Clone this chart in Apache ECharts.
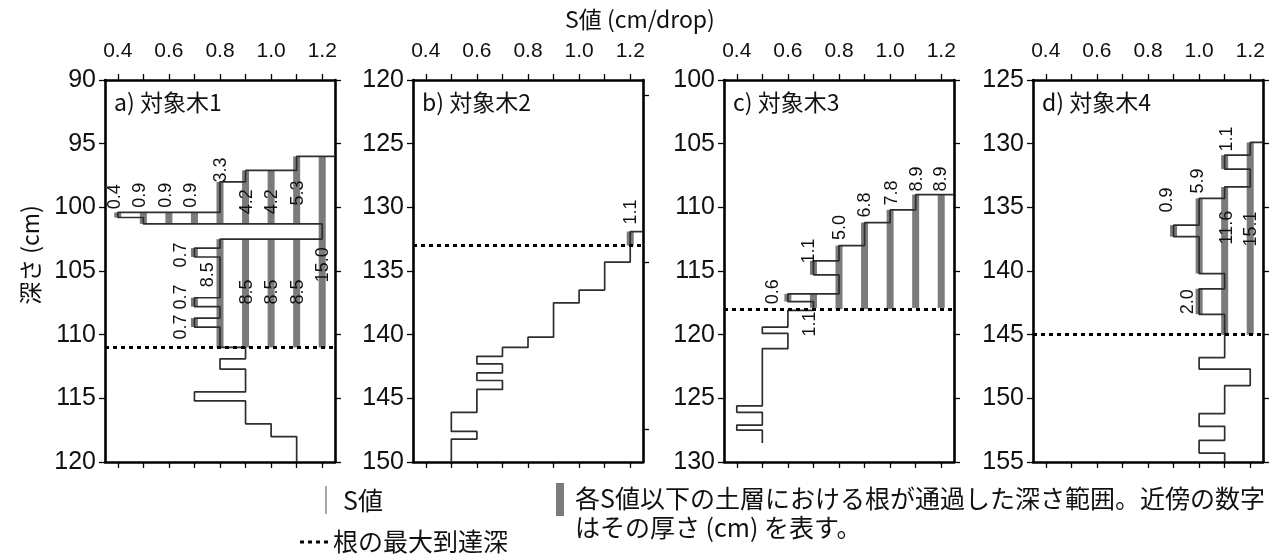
<!DOCTYPE html>
<html>
<head>
<meta charset="utf-8">
<script src="https://cdn.jsdelivr.net/npm/echarts@6/dist/echarts.min.js"></script>
<style>
  html, body { margin: 0; padding: 0; background: #fff; }
  #chart { width: 1283px; height: 560px; }
</style>
</head>
<body>
<div id="chart"></div>
<script>
// ---- S value axis ----
const S_MIN = 0.35;
const S_MAX = 1.25;
const S_TICKS = [0.4, 0.5, 0.6, 0.7, 0.8, 0.9, 1.0, 1.1, 1.2];
const S_TICK_LABELS = [0.4, 0.6, 0.8, 1.0, 1.2];

// ---- panels ----
const panelNames = ['a) 対象木1', 'b) 対象木2', 'c) 対象木3', 'd) 対象木4'];
const depthMin = [90, 120, 100, 125];
const depthMax = [120, 150, 130, 155];
const rightTicksB = [121.2, 134.3, 147.4];

// S value profile: layer boundaries (cm) and the S value of each layer
const breaksA = [96.0, 97.1, 98.0, 100.4, 100.8, 101.3, 102.5, 103.2, 103.9, 107.1, 107.8, 108.7, 109.4, 111.0, 111.9, 112.7, 114.5, 115.2, 117.0, 118.0, 120.0];
const sA = [1.1, 0.9, 0.8, 0.4, 0.5, 1.2, 0.8, 0.7, 0.8, 0.7, 0.8, 0.7, 0.8, 0.9, 0.8, 0.9, 0.7, 0.9, 1.0, 1.1];
const breaksB = [131.9, 134.3, 136.5, 137.5, 140.2, 141.0, 141.7, 142.3, 143.0, 143.6, 144.3, 146.1, 147.6, 148.2, 150.0];
const sB = [1.2, 1.1, 1.0, 0.9, 0.8, 0.7, 0.6, 0.7, 0.6, 0.7, 0.6, 0.5, 0.6, 0.5];
const breaksC = [109.0, 110.2, 111.2, 113.0, 114.2, 115.3, 116.8, 117.4, 118.1, 119.4, 119.9, 121.1, 125.6, 126.1, 127.1, 127.5, 128.5];
const sC = [1.1, 1.0, 0.9, 0.8, 0.7, 0.8, 0.6, 0.7, 0.6, 0.5, 0.6, 0.5, 0.4, 0.5, 0.4, 0.5];
const breaksD = [129.9, 130.9, 132.0, 133.4, 134.3, 136.4, 137.3, 140.2, 141.4, 143.4, 146.8, 147.7, 149.0, 151.2, 152.2, 153.3, 154.3, 155.0];
const sD = [1.2, 1.1, 1.2, 1.1, 1.0, 0.9, 1.0, 1.1, 1.0, 1.1, 1.0, 1.2, 1.1, 1.0, 1.1, 1.0, 1.1];

// maximum rooting depth (cm)
const maxRootDepth = [111.0, 133.0, 118.0, 145.0];

// root-passed depth ranges per S class: [S class, top depth, thickness]
const rootA = [
  [0.4, 100.4, 0.4], [0.5, 100.4, 0.9], [0.6, 100.4, 0.9], [0.7, 100.4, 0.9],
  [0.7, 103.2, 0.7], [0.7, 107.1, 0.7], [0.7, 108.7, 0.7],
  [0.8, 98.0, 3.3], [0.8, 102.5, 8.5],
  [0.9, 97.1, 4.2], [0.9, 102.5, 8.5],
  [1.0, 97.1, 4.2], [1.0, 102.5, 8.5],
  [1.1, 96.0, 5.3], [1.1, 102.5, 8.5],
  [1.2, 96.0, 15.0]
];
const rootB = [[1.2, 131.9, 1.1]];
const rootC = [
  [1.2, 109.0, 8.9], [1.1, 109.0, 8.9], [1.0, 110.2, 7.8], [0.9, 111.2, 6.8],
  [0.8, 113.0, 5.0], [0.7, 114.2, 1.1], [0.7, 116.8, 1.1], [0.6, 116.8, 0.6]
];
const rootD = [
  [1.2, 129.9, 15.1], [1.1, 130.9, 1.1], [1.1, 133.4, 11.6],
  [1.0, 134.3, 5.9], [1.0, 141.4, 2.0], [0.9, 136.4, 0.9]
];

// label placement for each range: [horizontal shift px, depth of label centre]
const labelAtA = [
  [-3, 99.17], [-3, 99.05], [-3, 99.05], [-3, 99.05],
  [-13, 103.75], [-13, 107.05], [-13, 109.4],
  [1, 97.07], [-12, 105.3],
  [1, 99.56], [1, 106.65],
  [1, 99.56], [1, 106.65],
  [1, 98.88], [1, 106.65],
  [1, 104.5]
];
const labelAtB = [[1, 130.37]];
const labelAtC = [[0, 107.78], [1, 107.78], [2, 108.88], [0, 109.82], [1, 111.59], [-4, 113.43], [-3, 119.17], [-15, 116.63]];
const labelAtD = [[1, 136.7], [2, 129.63], [2, 136.59], [-1, 132.93], [-11, 142.42], [-7, 134.43]];

const profiles = [[breaksA, sA], [breaksB, sB], [breaksC, sC], [breaksD, sD]];
const roots = [rootA, rootB, rootC, rootD];
const labelAts = [labelAtA, labelAtB, labelAtC, labelAtD];

// ---- layout ----
const GRID_LEFT = [105, 413, 724, 1033];
const GRID_TOP = 80, GRID_W = 230, GRID_H = 382;
const NUM_FONT = '"Liberation Sans", Arial, sans-serif';
const JP_FONT = '"Noto Sans CJK JP", sans-serif';
const BAR_GREY = '#7b7b7b';

function stepPath(breaks, sv) {
  // open top: the profile enters from the right edge of the panel
  const pts = [[S_MAX, breaks[0]]];
  sv.forEach((s, k) => {
    pts.push([s, breaks[k]]);
    pts.push([s, breaks[k + 1]]);
  });
  return pts;
}

const grids = [], xAxes = [], yAxes = [], series = [];
const axisLine = { show: true, onZero: false, lineStyle: { color: '#000', width: 2.6 } };
const tickStyle = { show: true, inside: false, length: 6, lineStyle: { color: '#000', width: 1.3 } };

panelNames.forEach((name, i) => {
  grids.push({ left: GRID_LEFT[i], top: GRID_TOP, width: GRID_W, height: GRID_H });

  xAxes.push({
    type: 'value', gridIndex: i, position: 'top', min: S_MIN, max: S_MAX,
    axisLine: axisLine,
    axisTick: Object.assign({}, tickStyle, { customValues: S_TICKS }),
    axisLabel: {
      customValues: S_TICK_LABELS, formatter: v => v.toFixed(1),
      fontFamily: NUM_FONT, fontSize: 21, color: '#111', margin: 18
    },
    splitLine: { show: false }
  });
  xAxes.push({
    type: 'value', gridIndex: i, position: 'bottom', min: S_MIN, max: S_MAX,
    axisLine: axisLine,
    axisTick: Object.assign({}, tickStyle, { customValues: S_TICKS }),
    axisLabel: { show: false },
    splitLine: { show: false }
  });
  yAxes.push({
    type: 'value', gridIndex: i, position: 'left', inverse: true,
    min: depthMin[i], max: depthMax[i], interval: 5,
    axisLine: axisLine, axisTick: tickStyle,
    axisLabel: { fontFamily: NUM_FONT, fontSize: 25, color: '#111', margin: 9 },
    splitLine: { show: false }
  });
  yAxes.push({
    type: 'value', gridIndex: i, position: 'right', inverse: true,
    min: depthMin[i], max: depthMax[i], interval: 5,
    axisLine: axisLine,
    axisTick: i === 1 ? Object.assign({}, tickStyle, { customValues: rightTicksB }) : tickStyle,
    axisLabel: { show: false },
    splitLine: { show: false }
  });

  const xi = 2 * i, yi = 2 * i;

  // grey depth ranges
  series.push({
    type: 'custom', coordinateSystem: 'cartesian2d', xAxisIndex: xi, yAxisIndex: yi,
    z: 2, silent: true,
    data: roots[i],
    renderItem: (params, api) => {
      const c = api.value(0), t = api.value(1), h = api.value(2);
      const p0 = api.coord([c, t]);
      const p1 = api.coord([c, t + h]);
      return {
        type: 'rect',
        shape: { x: p0[0] - 3.5, y: p0[1], width: 7, height: p1[1] - p0[1] },
        style: { fill: BAR_GREY }
      };
    }
  });

  // S value step profile with the maximum rooting depth
  const [br, sv] = profiles[i];
  series.push({
    type: 'line', xAxisIndex: xi, yAxisIndex: yi, z: 3,
    data: stepPath(br, sv),
    showSymbol: false, symbol: 'none', clip: true, silent: true,
    lineStyle: { color: '#2e2e2e', width: 1.7 },
    markLine: {
      silent: true, symbol: ['none', 'none'], animation: false,
      label: { show: false },
      lineStyle: { color: '#000', width: 3, type: [4, 4] },
      data: [{ yAxis: maxRootDepth[i] }]
    }
  });

  // thickness labels
  const labelData = roots[i].map((r, k) => [r[0], r[1], r[2], labelAts[i][k][0], labelAts[i][k][1]]);
  series.push({
    type: 'custom', coordinateSystem: 'cartesian2d', xAxisIndex: xi, yAxisIndex: yi,
    z: 4, silent: true,
    data: labelData,
    renderItem: (params, api) => {
      const c = api.value(0), h = api.value(2), dx = api.value(3), ld = api.value(4);
      const p = api.coord([c, ld]);
      return {
        type: 'text',
        x: p[0] + dx, y: p[1], rotation: Math.PI / 2,
        style: {
          text: h.toFixed(1), fill: '#111',
          font: '18px ' + NUM_FONT,
          align: 'center', verticalAlign: 'middle'
        }
      };
    }
  });
});

// titles, panel names and key
const graphics = [
  { type: 'text', x: 640, y: 19, style: { text: 'S値 (cm/drop)', font: '23px ' + JP_FONT, fill: '#111', align: 'center', verticalAlign: 'middle' } },
  { type: 'text', x: 30, y: 255, rotation: Math.PI / 2, style: { text: '深さ (cm)', font: '23px ' + JP_FONT, fill: '#111', align: 'center', verticalAlign: 'middle' } },
  // key
  { type: 'line', shape: { x1: 326, y1: 486, x2: 326, y2: 514 }, style: { stroke: '#888', lineWidth: 1.5 } },
  { type: 'text', x: 343, y: 500, style: { text: 'S値', font: '25px ' + JP_FONT, fill: '#111', verticalAlign: 'middle' } },
  { type: 'line', shape: { x1: 300, y1: 542, x2: 331, y2: 542 }, style: { stroke: '#000', lineWidth: 3, lineDash: [4, 4] } },
  { type: 'text', x: 333, y: 541, style: { text: '根の最大到達深', font: '25px ' + JP_FONT, fill: '#111', verticalAlign: 'middle' } },
  { type: 'rect', shape: { x: 556, y: 483, width: 8, height: 33 }, style: { fill: BAR_GREY } },
  { type: 'text', x: 575, y: 498, style: { text: '各S値以下の土層における根が通過した深さ範囲。近傍の数字', font: '25px ' + JP_FONT, fill: '#111', verticalAlign: 'middle' } },
  { type: 'text', x: 575, y: 527, style: { text: 'はその厚さ (cm) を表す。', font: '25px ' + JP_FONT, fill: '#111', verticalAlign: 'middle' } }
];
panelNames.forEach((name, i) => {
  graphics.push({
    type: 'text', x: GRID_LEFT[i] + 9, y: 102,
    style: { text: name, font: '23px ' + JP_FONT, fill: '#111', verticalAlign: 'middle' }
  });
});

const chart = echarts.init(document.getElementById('chart'), null, { renderer: 'canvas' });
chart.setOption({
  animation: false,
  backgroundColor: '#fff',
  grid: grids,
  xAxis: xAxes,
  yAxis: yAxes,
  series: series,
  graphic: graphics
});
</script>
</body>
</html>
